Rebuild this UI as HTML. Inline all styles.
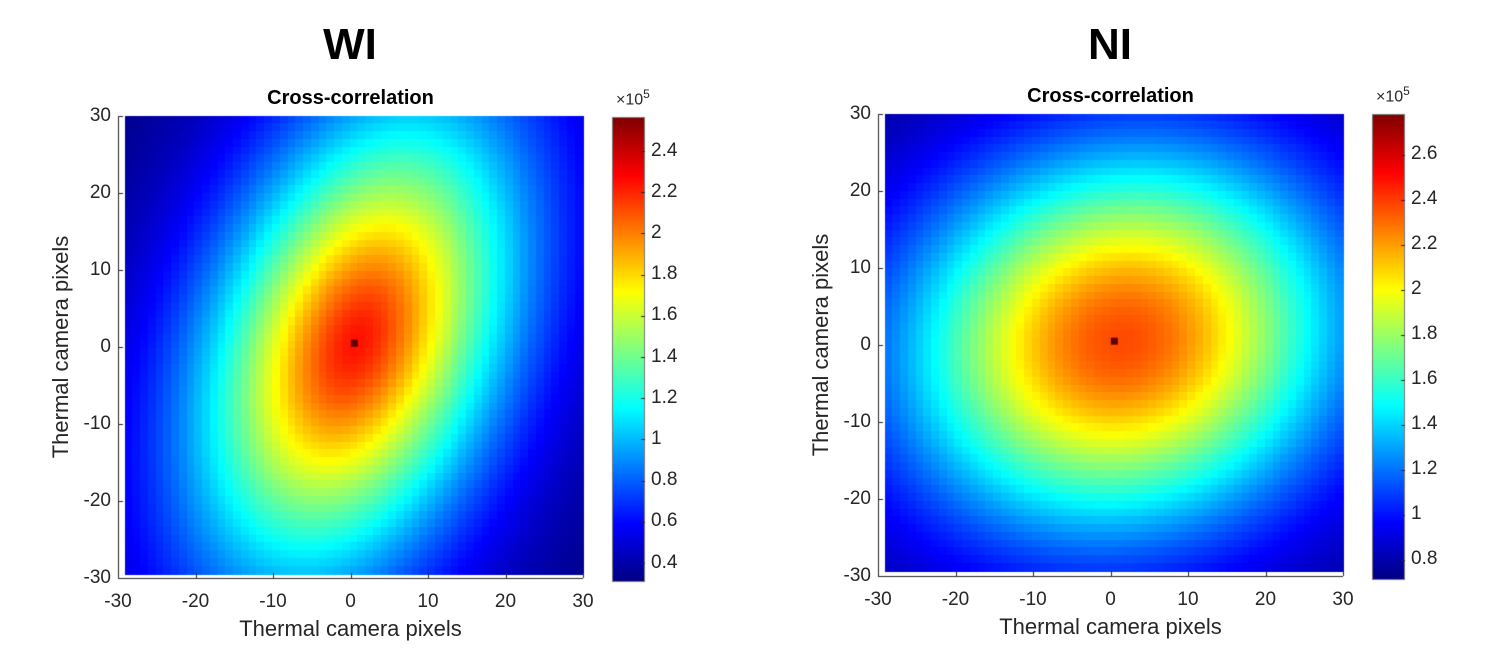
<!DOCTYPE html>
<html><head><meta charset="utf-8"><style>
body{margin:0;background:#fff;width:1486px;height:668px;overflow:hidden;font-family:"Liberation Sans",Arial,sans-serif;color:#262626}
#c{position:absolute;left:0;top:0}
.t{position:absolute;white-space:nowrap}
</style></head><body>
<canvas id="c" width="1486" height="668"></canvas>
<div class="t" style="left:0;width:700px;text-align:center;top:20px;font-size:44px;font-weight:bold;color:#000">WI</div>
<div class="t" style="left:760px;width:700px;text-align:center;top:20px;font-size:44px;font-weight:bold;color:#000">NI</div>
<div id="lab"></div>
<script>
const cv=document.getElementById('c'),g=cv.getContext('2d');
function jet(t){t=Math.max(0,Math.min(1,t));
 function f(x){return Math.max(0,Math.min(1,x));}
 let r=f(Math.min(4*t-1.5,-4*t+4.5)),gg=f(Math.min(4*t-0.5,-4*t+3.5)),b=f(Math.min(4*t+0.5,-4*t+2.5));
 return 'rgb('+Math.round(r*255)+','+Math.round(gg*255)+','+Math.round(b*255)+')';}
const lab=document.getElementById('lab');
function txt(s,x,y,fs,al,extra){const d=document.createElement('div');d.className='t';d.textContent=s;d.style.fontSize=fs+'px';
 d.style.top=(y-fs*0.6)+'px';
 if(al=='c'){d.style.left=(x-200)+'px';d.style.width='400px';d.style.textAlign='center';}
 else if(al=='r'){d.style.left=(x-200)+'px';d.style.width='200px';d.style.textAlign='right';}
 else d.style.left=x+'px';
 if(extra)d.setAttribute('style',d.getAttribute('style')+extra);
 lab.appendChild(d);return d;}
function plot(o){
 const {ax0,ax1,ay0,ay1,dx0,dy1,vmin,vmax,fn,cb0,cb1,cy0,cy1,ticks}=o;
 const sx=(ax1-ax0)/60, sy=(ay1-ay0)/60;
 const n=59,cw=(ax1-dx0)/n,ch=(dy1-ay0)/n;
 for(let i=0;i<n;i++)for(let j=0;j<n;j++){
  const px=dx0+i*cw, py=ay0+j*ch;
  const x=((px+cw/2)-ax0)/sx-30, y=30-((py+ch/2)-ay0)/sy;
  let v=fn(x,y);
  g.fillStyle=jet((v-vmin)/(vmax-vmin));
  g.fillRect(Math.floor(px),Math.floor(py),Math.ceil(cw)+1,Math.ceil(ch)+1);
 }
 g.fillStyle='#600000';g.fillRect(ax0+30.5*sx-3.5,ay0+29.5*sy-3.5,7,7);
 g.strokeStyle='#262626';g.lineWidth=1;
 g.beginPath();g.moveTo(ax0+0.5,ay0);g.lineTo(ax0+0.5,ay1+0.5);g.lineTo(ax1,ay1+0.5);g.stroke();
 for(let k=-30;k<=30;k+=10){
  const X=ax0+(k+30)*sx, Y=ay1-(k+30)*sy;
  g.beginPath();g.moveTo(Math.round(X)+0.5,ay1);g.lineTo(Math.round(X)+0.5,ay1-5);g.stroke();
  g.beginPath();g.moveTo(ax0,Math.round(Y)+0.5);g.lineTo(ax0+5,Math.round(Y)+0.5);g.stroke();
  txt(String(k),X,ay1+24,19,'c');
  txt(String(k),ax0-7,Y,19,'r');
 }
 const cx=(ax0+ax1)/2;
 txt('Thermal camera pixels',cx,ay1+51,22,'c');
 const yl=txt('Thermal camera pixels',ax0-57,(ay0+ay1)/2,22,'c');
 yl.style.transform='rotate(-90deg)';
 txt('Cross-correlation',cx,ay0-17,20,'c','font-weight:bold;color:#000;');
 for(let p=cy0;p<cy1;p++){const v=vmax-(p-cy0)/(cy1-cy0)*(vmax-vmin);g.fillStyle=jet((v-vmin)/(vmax-vmin));g.fillRect(cb0,p,cb1-cb0,1);}
 g.strokeStyle='#777';g.strokeRect(cb0+0.5,cy0+0.5,cb1-cb0-1,cy1-cy0-1);
 g.strokeStyle='#262626';
 for(const tk of ticks){const Y=cy0+(vmax-tk)/(vmax-vmin)*(cy1-cy0);
  g.beginPath();g.moveTo(cb1-4,Math.round(Y)+0.5);g.lineTo(cb1,Math.round(Y)+0.5);g.stroke();
  txt(String(tk),cb1+6,Y,19,'l');}
 const e=txt('×10',cb0+4,cy0-20,16,'l');e.innerHTML='×10<sup style="font-size:12px">5</sup>';
}
plot({ax0:118,ax1:583,ay0:116,ay1:578,dx0:125,dy1:574,vmin:0.308,vmax:2.565,cb0:612,cb1:645,cy0:117,cy1:582,
 ticks:[0.4,0.6,0.8,1,1.2,1.4,1.6,1.8,2,2.2,2.4],
 fn:(x,y)=>{x-=0.8;y-=0.5;const a=x/13.5,b=y/20,r=0.35;const q=(a*a-2*r*a*b+b*b)/(1-r*r);return 0.3+1.95*Math.exp(-Math.pow(q,0.85)/2);}});
plot({ax0:878,ax1:1343,ay0:114,ay1:576,dx0:885,dy1:571,vmin:0.71,vmax:2.78,cb0:1372,cb1:1405,cy0:114,cy1:580,
 ticks:[0.8,1,1.2,1.4,1.6,1.8,2,2.2,2.4,2.6],
 fn:(x,y)=>{x-=1.5;y-=0.5;const a=x/19.5,b=y/17,r=0.08;const q=(a*a-2*r*a*b+b*b)/(1-r*r);return 0.72+1.65*Math.exp(-q/2);}});
</script>
</body></html>
